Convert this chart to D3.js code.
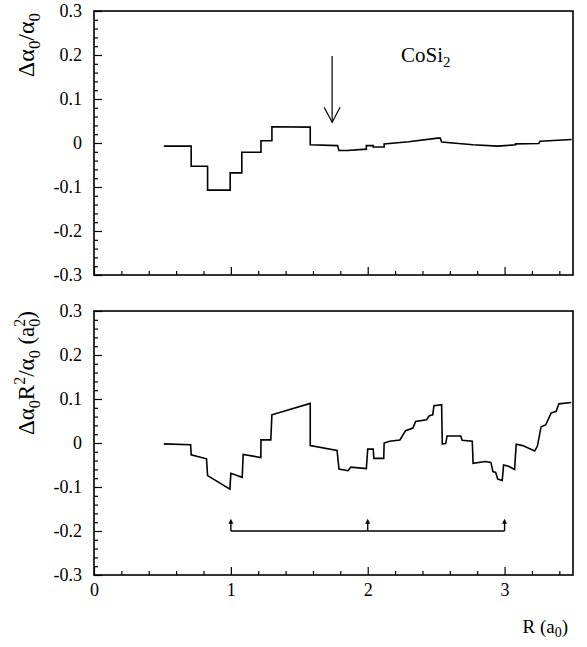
<!DOCTYPE html>
<html>
<head>
<meta charset="utf-8">
<script src="https://cdn.jsdelivr.net/npm/d3@7"></script>
<style>
  body { margin: 0; background: #fff; }
  svg text { font-family: "Liberation Serif", "Times New Roman", Times, serif; fill: #000; }
</style>
</head>
<body>
<div id="chart"></div>
<script>
// step curve: top panel (delta alpha / alpha)
const topR = [0.51, 0.71, 0.71, 0.83, 0.83, 0.995, 0.995, 1.08, 1.08, 1.22, 1.22, 1.30, 1.30, 1.58, 1.58, 1.78, 1.79, 1.85, 1.99, 1.99, 2.04, 2.04, 2.12, 2.12, 2.30, 2.51, 2.53, 2.54, 2.77, 2.95, 3.00, 3.08, 3.08, 3.25, 3.26, 3.49];
const topV = [-0.007, -0.007, -0.053, -0.053, -0.107, -0.107, -0.068, -0.068, -0.021, -0.021, 0.005, 0.005, 0.037, 0.036, -0.004, -0.006, -0.017, -0.017, -0.014, -0.006, -0.006, -0.009, -0.009, -0.002, 0.003, 0.011, 0.011, 0.002, -0.004, -0.007, -0.006, -0.004, -0.002, -0.001, 0.004, 0.008];

// bottom panel (delta alpha R^2 / alpha)
const botR = [0.51, 0.706, 0.71, 0.822, 0.83, 0.993, 1.0, 1.083, 1.09, 1.219, 1.22, 1.292, 1.30, 1.58, 1.58, 1.776, 1.79, 1.856, 1.876, 1.99, 2.0, 2.04, 2.045, 2.117, 2.12, 2.16, 2.235, 2.277, 2.33, 2.35, 2.43, 2.45, 2.475, 2.484, 2.54, 2.545, 2.57, 2.58, 2.68, 2.69, 2.764, 2.77, 2.86, 2.90, 2.915, 2.935, 2.95, 2.983, 2.993, 3.03, 3.073, 3.085, 3.133, 3.22, 3.24, 3.267, 3.30, 3.34, 3.377, 3.397, 3.487];
const botV = [-0.002, -0.004, -0.027, -0.036, -0.074, -0.105, -0.069, -0.078, -0.026, -0.033, 0.007, 0.007, 0.064, 0.09, -0.006, -0.017, -0.059, -0.063, -0.055, -0.058, -0.014, -0.014, -0.035, -0.035, 0.0, 0.004, 0.007, 0.028, 0.034, 0.049, 0.053, 0.062, 0.064, 0.085, 0.087, -0.002, -0.001, 0.016, 0.016, 0.006, 0.004, -0.046, -0.042, -0.044, -0.065, -0.067, -0.082, -0.085, -0.05, -0.053, -0.06, -0.003, -0.006, -0.018, -0.007, 0.037, 0.041, 0.068, 0.072, 0.089, 0.092];

const xMajor = [0, 1, 2, 3];
const yMajor = [-0.3, -0.2, -0.1, 0, 0.1, 0.2, 0.3];
const yLabels = ['-0.3', '-0.2', '-0.1', '0', '0.1', '0.2', '0.3'];
const bracketR = [1, 2, 3];

const serif = '"Liberation Serif", "Times New Roman", Times, serif';
const W = 587, H = 647;
const svg = d3.select('#chart').append('svg')
  .attr('width', W).attr('height', H)
  .style('font-family', serif);

const x = d3.scaleLinear().domain([0, 3.5]).range([94, 573]);

function panel(y0, y1, R, V, showXLabels) {
  const y = d3.scaleLinear().domain([-0.3, 0.3]).range([y1, y0]);
  const g = svg.append('g');

  // minor x ticks every 0.2
  const xMinor = d3.range(0, 3.51, 0.2).filter(v => Math.abs(v - Math.round(v)) > 0.01);
  g.append('g')
    .attr('transform', `translate(0,${y1})`)
    .call(d3.axisBottom(x).tickValues(xMinor).tickSize(-4).tickFormat(''))
    .call(a => a.select('.domain').remove());

  const xa = g.append('g')
    .attr('transform', `translate(0,${y1})`)
    .call(d3.axisBottom(x).tickValues(xMajor).tickSize(-8).tickPadding(8)
      .tickFormat(showXLabels ? d3.format('d') : ''));
  xa.select('.domain').remove();
  xa.attr('font-family', null).attr('font-size', 18);

  // minor y ticks every 0.02
  const yMinor = d3.range(-15, 16).map(i => i * 0.02).filter(v => Math.abs(v * 10 - Math.round(v * 10)) > 0.01);
  g.append('g')
    .attr('transform', `translate(${x(0)},0)`)
    .call(d3.axisLeft(y).tickValues(yMinor).tickSize(-4).tickFormat(''))
    .call(a => a.select('.domain').remove());

  const ya = g.append('g')
    .attr('transform', `translate(${x(0)},0)`)
    .call(d3.axisLeft(y).tickValues(yMajor).tickSize(-8).tickPadding(12)
      .tickFormat((d, i) => yLabels[i]));
  ya.select('.domain').remove();
  ya.attr('font-family', null).attr('font-size', 18);

  g.selectAll('.tick line').attr('stroke', '#000').attr('stroke-width', 1.2);

  // frame
  g.append('rect')
    .attr('x', x(0)).attr('y', y0)
    .attr('width', x(3.5) - x(0)).attr('height', y1 - y0)
    .attr('fill', 'none').attr('stroke', '#000').attr('stroke-width', 1.6);

  const line = d3.line().x(i => x(R[i])).y(i => y(V[i]));
  g.append('path')
    .attr('d', line(d3.range(R.length)))
    .attr('fill', 'none').attr('stroke', '#000').attr('stroke-width', 1.6)
    .attr('stroke-linejoin', 'miter');

  return { g, y };
}

const topP = panel(11, 275, topR, topV, false);
const botP = panel(311, 575, botR, botV, true);

// arrow in top panel
const ax = x(1.74), aTop = topP.y(0.198), aTip = topP.y(0.047);
topP.g.append('line')
  .attr('x1', ax).attr('x2', ax).attr('y1', aTop).attr('y2', aTip)
  .attr('stroke', '#000').attr('stroke-width', 1.2);
topP.g.append('path')
  .attr('d', `M${ax - 8},${aTip - 15}L${ax},${aTip}L${ax + 8},${aTip - 15}`)
  .attr('fill', 'none').attr('stroke', '#000').attr('stroke-width', 1.2);

// CoSi2 label
const lab = topP.g.append('text').attr('x', 401).attr('y', 62).attr('font-size', 21);
lab.append('tspan').text('CoSi');
lab.append('tspan').attr('font-size', 15).attr('dy', 5).text('2');

// bracket in bottom panel
const by = botP.y(-0.2), bt = botP.y(-0.172);
botP.g.append('line')
  .attr('x1', x(1)).attr('x2', x(3)).attr('y1', by).attr('y2', by)
  .attr('stroke', '#000').attr('stroke-width', 1.6);
botP.g.selectAll('.stem').data(bracketR).enter().append('line')
  .attr('x1', d => x(d)).attr('x2', d => x(d))
  .attr('y1', by).attr('y2', bt + 3)
  .attr('stroke', '#000').attr('stroke-width', 1.4);
botP.g.selectAll('.head').data(bracketR).enter().append('path')
  .attr('d', d => `M${x(d) - 2.5},${bt + 5}L${x(d)},${bt}L${x(d) + 2.5},${bt + 5}Z`)
  .attr('fill', '#000');

// y axis titles
const t1 = svg.append('text').attr('transform', 'translate(34,45) rotate(-90)')
  .attr('text-anchor', 'middle').attr('font-size', 24);
t1.append('tspan').text('\u0394\u03b1');
t1.append('tspan').attr('font-size', 17).attr('dy', 6).text('0');
t1.append('tspan').attr('dy', -6).text('/\u03b1');
t1.append('tspan').attr('font-size', 17).attr('dy', 6).text('0');

const t2 = svg.append('text').attr('transform', 'translate(34,373) rotate(-90)')
  .attr('text-anchor', 'middle').attr('font-size', 23);
t2.append('tspan').text('\u0394\u03b1');
t2.append('tspan').attr('font-size', 16).attr('dy', 6).text('0');
t2.append('tspan').attr('dy', -6).text('R');
t2.append('tspan').attr('font-size', 16).attr('dy', -9).text('2');
t2.append('tspan').attr('dy', 9).text('/\u03b1');
t2.append('tspan').attr('font-size', 16).attr('dy', 6).text('0');
t2.append('tspan').attr('dy', -6).text(' (a');
t2.append('tspan').attr('font-size', 16).attr('dy', 6).text('0');
t2.append('tspan').attr('font-size', 16).attr('dx', -8).attr('dy', -15).text('2');
t2.append('tspan').attr('dy', 9).text(')');

// x axis title
const xt = svg.append('text').attr('x', 568).attr('y', 633)
  .attr('text-anchor', 'end').attr('font-size', 19);
xt.append('tspan').text('R (a');
xt.append('tspan').attr('font-size', 14).attr('dy', 4).text('0');
xt.append('tspan').attr('dy', -4).text(')');
</script>
</body>
</html>
